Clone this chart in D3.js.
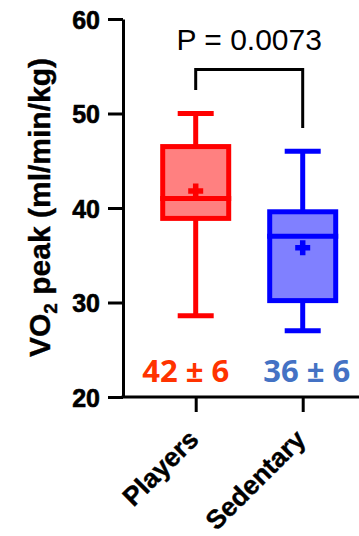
<!DOCTYPE html>
<html>
<head>
<meta charset="utf-8">
<script src="https://cdn.jsdelivr.net/npm/d3@7"></script>
<style>
  html, body { margin: 0; padding: 0; background: #fff; }
  svg { display: block; }
</style>
</head>
<body>
<svg id="chart" width="359" height="536"></svg>
<script>
// Groups and their box-plot summaries (VO2 peak, ml/min/kg)
const groups = ["Players", "Sedentary"];
const whiskerMin = [28.6, 27.0];
const quartile1 = [38.9, 30.2];
const medians = [41.0, 37.0];
const quartile3 = [46.5, 39.6];
const whiskerMax = [50.0, 46.0];
const means = [41.8, 35.8];
const stdDevs = [6, 6];
const yTicks = [20, 30, 40, 50, 60];
const pValueText = "P = 0.0073";

const strokeColors = ["#ff0000", "#0000ff"];
const fillColors = ["#ff8080", "#8080ff"];
const statColors = ["#ff3300", "#4472c4"];

const svg = d3.select("#chart");

const y = d3.scaleLinear().domain([20, 60]).range([397, 19]);
const x = d3.scalePoint().domain(groups).range([195.7, 302.7]);

const axisLeftX = 123;
const axisRightX = 359;

// Y axis
const yAxis = svg.append("g")
  .attr("transform", `translate(${axisLeftX},0)`)
  .call(d3.axisLeft(y).tickValues(yTicks).tickSize(15).tickPadding(8).tickSizeOuter(0));
yAxis.select(".domain").attr("stroke", "#000").attr("stroke-width", 3);
yAxis.selectAll(".tick line").attr("stroke", "#000").attr("stroke-width", 3);
yAxis.selectAll(".tick text")
  .attr("font-family", "Liberation Sans, Arial, sans-serif")
  .attr("font-weight", "bold")
  .attr("font-size", 25)
  .attr("fill", "#000")
  .attr("stroke", "#000")
  .attr("stroke-width", 0.6)
  .attr("dy", "0.36em");

// X axis
const xAxis = svg.append("g")
  .attr("transform", `translate(0,${y(20)})`)
  .call(d3.axisBottom(x).tickSize(15).tickSizeOuter(0));
xAxis.select(".domain").remove();
xAxis.append("line")
  .attr("x1", axisLeftX - 1.5).attr("x2", axisRightX)
  .attr("y1", 0).attr("y2", 0)
  .attr("stroke", "#000").attr("stroke-width", 3);
xAxis.selectAll(".tick line").attr("stroke", "#000").attr("stroke-width", 3);
xAxis.selectAll(".tick text")
  .attr("font-family", "Liberation Sans, Arial, sans-serif")
  .attr("font-weight", "bold")
  .attr("font-size", 26.5)
  .attr("fill", "#000")
  .attr("stroke", "#000")
  .attr("stroke-width", 0.4)
  .attr("text-anchor", "end")
  .attr("y", 0)
  .attr("dy", 0)
  .attr("transform", "translate(4,44) rotate(-45)");

// Y axis title with subscript
const title = svg.append("text")
  .attr("transform", `translate(50,207.5) rotate(-90)`)
  .attr("text-anchor", "middle")
  .attr("font-family", "Liberation Sans, Arial, sans-serif")
  .attr("font-weight", "bold")
  .attr("font-size", 30)
  .attr("fill", "#000")
  .attr("stroke", "#000")
  .attr("stroke-width", 0.4);
title.append("tspan").text("VO");
title.append("tspan").attr("font-size", 19).attr("dy", 7).text("2");
title.append("tspan").attr("dy", -7).text(" peak (ml/min/kg)");

// Box plots
const boxWidth = 66;
const capWidth = 36;
const sw = 5;

groups.forEach((g, i) => {
  const cx = x(g);
  const grp = svg.append("g");
  // whiskers
  grp.append("line")
    .attr("x1", cx).attr("x2", cx)
    .attr("y1", y(whiskerMax[i])).attr("y2", y(quartile3[i]))
    .attr("stroke", strokeColors[i]).attr("stroke-width", sw);
  grp.append("line")
    .attr("x1", cx).attr("x2", cx)
    .attr("y1", y(quartile1[i])).attr("y2", y(whiskerMin[i]))
    .attr("stroke", strokeColors[i]).attr("stroke-width", sw);
  // caps
  [whiskerMax[i], whiskerMin[i]].forEach(v => {
    grp.append("line")
      .attr("x1", cx - capWidth / 2).attr("x2", cx + capWidth / 2)
      .attr("y1", y(v)).attr("y2", y(v))
      .attr("stroke", strokeColors[i]).attr("stroke-width", sw);
  });
  // box
  grp.append("rect")
    .attr("x", cx - boxWidth / 2)
    .attr("y", y(quartile3[i]))
    .attr("width", boxWidth)
    .attr("height", y(quartile1[i]) - y(quartile3[i]))
    .attr("fill", fillColors[i])
    .attr("stroke", strokeColors[i])
    .attr("stroke-width", sw);
  // median
  grp.append("line")
    .attr("x1", cx - boxWidth / 2 - sw / 2).attr("x2", cx + boxWidth / 2 + sw / 2)
    .attr("y1", y(medians[i])).attr("y2", y(medians[i]))
    .attr("stroke", strokeColors[i]).attr("stroke-width", sw);
  // mean marker (+)
  const my = y(means[i]);
  grp.append("path")
    .attr("d", `M${cx - 7.5},${my}H${cx + 7.5}M${cx},${my - 7.5}V${my + 7.5}`)
    .attr("stroke", strokeColors[i]).attr("stroke-width", 5.5).attr("fill", "none");
});

// Mean ± SD labels
const fmt = d3.format(".0f");
const statOffsets = [-10, 4];
groups.forEach((g, i) => {
  svg.append("text")
    .attr("x", x(g) + statOffsets[i])
    .attr("y", 382)
    .attr("text-anchor", "middle")
    .attr("font-family", "Open Sans, sans-serif")
    .attr("font-weight", "bold")
    .attr("font-size", 31)
    .attr("fill", statColors[i])
    .text(`${fmt(means[i])} ± ${fmt(stdDevs[i])}`);
});

// Significance bracket
const bracketY = 69.5;
svg.append("path")
  .attr("d", `M${x(groups[0])},90V${bracketY}H${x(groups[1])}V128`)
  .attr("fill", "none")
  .attr("stroke", "#000")
  .attr("stroke-width", 3);
svg.append("text")
  .attr("x", (x(groups[0]) + x(groups[1])) / 2)
  .attr("y", 49.5)
  .attr("text-anchor", "middle")
  .attr("font-family", "Liberation Sans, Arial, sans-serif")
  .attr("font-size", 30)
  .attr("fill", "#000")
  .text(pValueText);
</script>
</body>
</html>
